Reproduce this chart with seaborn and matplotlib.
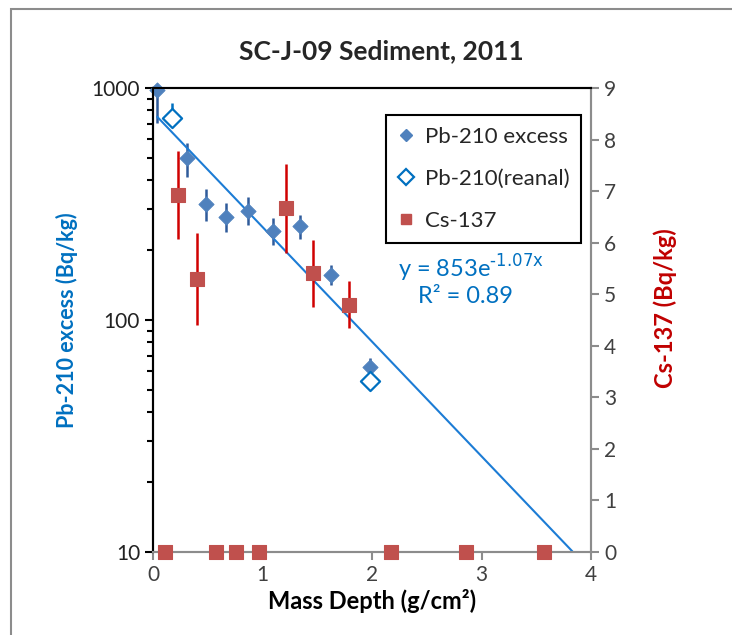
import numpy as np
import matplotlib
matplotlib.use("Agg")
import matplotlib.pyplot as plt
from matplotlib.lines import Line2D
from matplotlib.patches import Rectangle
from matplotlib.ticker import NullFormatter, FixedLocator, ScalarFormatter
import seaborn as sns

# Pb-210 excess (filled diamonds), Bq/kg
pb_x = [0.034, 0.31, 0.48, 0.66, 0.87, 1.09, 1.34, 1.62, 1.98]
pb_y = [980, 500, 315, 279, 296, 243, 254, 157, 62.5]
pb_lo = [704, 415, 268, 239, 257, 211, 223, 142, 57]
pb_hi = [1000, 581, 366, 318, 339, 275, 284, 173, 68.4]

# Pb-210 re-analysed (open diamonds)
re_x = [0.17, 1.98]
re_y = [740, 54.6]
re_lo = [677, 54.6]
re_hi = [859, 54.6]

# Cs-137 (squares, right axis), Bq/kg
cs_x = [0.11, 0.23, 0.40, 0.57, 0.76, 0.97, 1.21, 1.46, 1.79, 2.17, 2.86, 3.57]
cs_y = [0, 6.92, 5.29, 0, 0, 0, 6.67, 5.41, 4.80, 0, 0, 0]
cs_lo = [0, 6.08, 4.40, 0, 0, 0, 5.80, 4.75, 4.34, 0, 0, 0]
cs_hi = [0, 7.78, 6.18, 0, 0, 0, 7.53, 6.05, 5.26, 0, 0, 0]

# exponential trendline as drawn
fit_a = 783
fit_b = 1.137
fit_range = [0.036, 3.83]

sns.set_style("white")
plt.rcParams['font.family'] = ['Lato', 'DejaVu Sans']

blue_fill = "#4f81bd"
blue_err = "#2f5b9a"
blue_line = "#1c7cd5"
open_blue = "#0070c0"
red_fill = "#c0504d"
red_err = "#d00000"
gray = "#8c8c8c"

fig = plt.figure(figsize=(7.32, 6.35), dpi=100)
ax1 = fig.add_axes([0.2094, 0.1307, 0.598, 0.7307])
ax2 = ax1.twinx()

# Pb-210 error bars and points
pb_y_arr = np.array(pb_y)
ax1.errorbar(pb_x, pb_y, yerr=[pb_y_arr - np.array(pb_lo), np.array(pb_hi) - pb_y_arr],
             fmt='none', ecolor=blue_err, elinewidth=1.8, capsize=0, zorder=2, clip_on=False)
re_y_arr = np.array(re_y)
ax1.errorbar(re_x, re_y, yerr=[re_y_arr - np.array(re_lo), np.array(re_hi) - re_y_arr],
             fmt='none', ecolor=open_blue, elinewidth=1.8, capsize=0, zorder=2)

fx = np.linspace(fit_range[0], fit_range[1], 200)
sns.lineplot(x=fx, y=fit_a * np.exp(-fit_b * fx), color=blue_line, linewidth=1.5, ax=ax1, zorder=3)

sns.scatterplot(x=pb_x, y=pb_y, marker='D', s=60, color=blue_fill, edgecolor=blue_fill,
                ax=ax1, zorder=4, clip_on=False)
sns.scatterplot(x=re_x, y=re_y, marker='D', s=95, facecolor='white', edgecolor=open_blue,
                linewidth=1.6, ax=ax1, zorder=4, clip_on=False)

ax1.set_yscale('log')
ax1.set_ylim(10, 1000)
ax1.set_xlim(0, 4)

# Cs-137
cs_y_arr = np.array(cs_y)
ax2.errorbar(cs_x, cs_y, yerr=[cs_y_arr - np.array(cs_lo), np.array(cs_hi) - cs_y_arr],
             fmt='none', ecolor=red_err, elinewidth=1.8, capsize=0, zorder=2)
sns.scatterplot(x=cs_x, y=cs_y, marker='s', s=95, color=red_fill, edgecolor=red_fill,
                ax=ax2, zorder=4, clip_on=False)
ax2.set_ylim(0, 9)
ax2.set_yticks(range(0, 10))

# spines
for ax in (ax1, ax2):
    ax.spines['top'].set_color('black')
    ax.spines['left'].set_color('black')
    ax.spines['bottom'].set_color(gray)
    ax.spines['right'].set_color(gray)
    for s in ax.spines.values():
        s.set_linewidth(1.5)

ax1.set_xlabel("Mass Depth (g/cm²)", fontsize=17, fontweight='bold', color='black', labelpad=3)
ax1.set_ylabel("Pb-210 excess (Bq/kg)", fontsize=15.5, fontweight='bold', color=open_blue, labelpad=10)
ax2.set_ylabel("Cs-137 (Bq/kg)", fontsize=17, fontweight='bold', color='#c00000', labelpad=27)
ax2.yaxis.label.set_y(0.526)
ax1.set_title("SC-J-09 Sediment, 2011", fontsize=19, fontweight='bold', pad=21, x=0.52)

# trendline equation
ax2.text(0.559, 0.612, "y = 853e$^{\\text{-1.07x}}$", transform=ax2.transAxes,
         color=open_blue, fontsize=17, va='center')
ax2.text(0.605, 0.5496, "R² = 0.89", transform=ax2.transAxes, color=open_blue,
         fontsize=17, va='center')

handles = [
    Line2D([], [], linestyle='none', marker='D', markersize=6, color=blue_fill),
    Line2D([], [], linestyle='none', marker='D', markersize=8, markerfacecolor='white',
           markeredgecolor=open_blue, markeredgewidth=1.6),
    Line2D([], [], linestyle='none', marker='s', markersize=7.5, color=red_fill),
]
leg = ax2.legend(handles, ["Pb-210 excess", "Pb-210(reanal)", "Cs-137"],
                 loc='upper left', bbox_to_anchor=(0.531, 0.942), borderaxespad=0,
                 fontsize=16, fancybox=False, framealpha=1, edgecolor='black',
                 labelspacing=0.98, handlelength=0.7, handletextpad=0.5, borderpad=0.55)
leg.get_frame().set_linewidth(1.5)

# outer chart border
fig.patches.append(Rectangle((11 / 732, -0.05), 1.2, 0.9858 + 0.05, transform=fig.transFigure,
                             fill=False, edgecolor=gray, linewidth=1.5, zorder=0))

# ticks (set last)
minor_vals = [m * d for d in (10, 100) for m in range(2, 10)]
ax1.set_xticks([0, 1, 2, 3, 4])
ax1.set_yticks([10, 100, 1000])
ax1.yaxis.set_major_formatter(ScalarFormatter())
ax1.yaxis.set_minor_locator(FixedLocator(minor_vals))
ax1.yaxis.set_minor_formatter(NullFormatter())
ax1.tick_params(axis='x', direction='out', length=6, width=1.5, color=gray,
                labelsize=15, labelcolor='#404040', bottom=True)
ax2.tick_params(axis='y', direction='out', length=6, width=1.5, color=gray,
                labelsize=15, labelcolor='#404040', right=True)
ax1.tick_params(axis='y', which='major', direction='out', length=6, width=1.5, color='black',
                labelsize=15, labelcolor='#222222', left=True)
ax1.tick_params(axis='y', which='minor', direction='out', length=4, width=1.5, color='black', left=True)

fig.canvas.draw()
for t in ax1.yaxis.get_minor_ticks():
    t.tick1line.set_visible(True)
    t.tick1line.set_markersize(4)
    t.tick1line.set_markeredgewidth(1.5)
    t.tick1line.set_color('black')

fig.savefig("out.png", dpi=100)
